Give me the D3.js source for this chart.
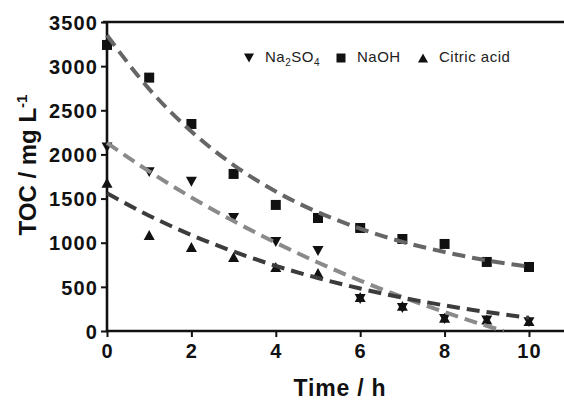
<!DOCTYPE html>
<html>
<head>
<meta charset="utf-8">
<script src="https://cdn.jsdelivr.net/npm/d3@7"></script>
<style>
  body { margin: 0; background: #fff; }
  text { font-family: "Liberation Sans", Arial, sans-serif; }
</style>
</head>
<body>
<svg id="chart" width="564" height="400"></svg>
<script>
// Measured TOC (mg/L) over electrolysis time (h) for three supporting electrolytes
const hours = [0, 1, 2, 3, 4, 5, 6, 7, 8, 9, 10];
const na2so4 = [2080, 1800, 1690, 1280, 1008, 906, 363, 260, 136, 120, 100];
const naoh = [3240, 2870, 2345, 1779, 1428, 1280, 1167, 1042, 986, 782, 725];
const citric = [1680, 1088, 952, 838, 725, 657, 385, 285, 150, 130, 112];

// Exponential-decay fit curves, sampled each hour
const fitHours = [0, 1, 2, 3, 4, 5, 6, 7, 8, 9, 10];
const fitHoursNa2so4 = [0, 1, 2, 3, 4, 5, 6, 7, 8, 9, 9.4];
const fitNa2so4 = [2130, 1808, 1513, 1245, 1000, 776, 571, 385, 214, 58, 0];
const fitNaoh = [3350, 2740, 2260, 1880, 1580, 1345, 1160, 1010, 895, 800, 730];
const fitCitric = [1560, 1306, 1087, 900, 738, 600, 481, 378, 290, 215, 150];

const xTicks = [0, 2, 4, 6, 8, 10];
const yTicks = [0, 500, 1000, 1500, 2000, 2500, 3000, 3500];

const legendNames = ["Na2SO4", "NaOH", "Citric acid"];

const W = 564, H = 400;
const svg = d3.select("#chart");

const x = d3.scaleLinear().domain([0, 10.83]).range([107, 564]);
const y = d3.scaleLinear().domain([0, 3500]).range([331, 22]);

const ink = "#111";

// marker shapes, centred on their bounding box
function markerPath(shape, s) {
  const h = s / 2;
  if (shape === "square") return `M${-h},${-h}H${h}V${h}H${-h}Z`;
  const th = s * 0.9 / 2;
  if (shape === "down") return `M${-h},${-th}L${h},${-th}L0,${th}Z`;
  return `M${-h},${th}L${h},${th}L0,${-th}Z`;
}

const series = [
  { name: "Na2SO4", values: na2so4, shape: "down", fitX: fitHoursNa2so4, fit: fitNa2so4, color: "#8a8a8a" },
  { name: "NaOH", values: naoh, shape: "square", fitX: fitHours, fit: fitNaoh, color: "#666" },
  { name: "Citric acid", values: citric, shape: "up", fitX: fitHours, fit: fitCitric, color: "#3c3c3c" }
];

// axes
const yAxis = d3.axisLeft(y).tickValues(yTicks).tickSize(6).tickPadding(3).tickFormat(d3.format("d"));
const gy = svg.append("g").attr("transform", "translate(107,0)").call(yAxis);
const xAxis = d3.axisBottom(x).tickValues(xTicks).tickSize(6).tickPadding(7).tickFormat(d3.format("d"));
const gx = svg.append("g").attr("transform", "translate(0,331)").call(xAxis);

[gx, gy].forEach(g => {
  g.select(".domain").remove();
  g.selectAll(".tick line").attr("stroke", ink).attr("stroke-width", 2);
  g.selectAll(".tick text")
    .attr("fill", ink)
    .style("font-size", "20px")
    .style("font-weight", "bold")
    .style("letter-spacing", "1.1px");
});
gy.selectAll(".tick text").attr("dy", "0.36em");

// spines: left, bottom and top frame lines
svg.append("line").attr("x1", x(0)).attr("x2", x(0)).attr("y1", y(3500) - 1).attr("y2", y(0) + 1)
  .attr("stroke", ink).attr("stroke-width", 2.6);
svg.append("line").attr("x1", x(0) - 1).attr("x2", W).attr("y1", y(0)).attr("y2", y(0))
  .attr("stroke", ink).attr("stroke-width", 2.6);
svg.append("line").attr("x1", x(0) - 4).attr("x2", W).attr("y1", y(3500)).attr("y2", y(3500))
  .attr("stroke", ink).attr("stroke-width", 2.6);

// data markers
series.forEach(s => {
  svg.append("g").selectAll("path")
    .data(hours.map((h, i) => [h, s.values[i]]))
    .join("path")
    .attr("transform", d => `translate(${x(d[0])},${y(d[1])})`)
    .attr("d", markerPath(s.shape, s.shape === "square" ? 10 : 11))
    .attr("fill", ink);
});

// dashed fit curves
const line = d3.line().x(d => x(d[0])).y(d => y(d[1])).curve(d3.curveMonotoneX);
series.forEach(s => {
  svg.append("path")
    .datum(s.fitX.map((h, i) => [h, s.fit[i]]))
    .attr("d", line)
    .attr("fill", "none")
    .attr("stroke", s.color)
    .attr("stroke-width", 4)
    .attr("stroke-dasharray", "13,7");
});

// legend
const legendX = [249, 341, 423];
const lg = svg.append("g");
series.forEach((s, i) => {
  lg.append("path")
    .attr("transform", `translate(${legendX[i]},58)`)
    .attr("d", markerPath(s.shape, s.shape === "square" ? 9 : 10))
    .attr("fill", ink);
  const t = lg.append("text")
    .attr("x", legendX[i] + 16)
    .attr("y", 62)
    .attr("fill", "#222")
    .style("font-size", "15px")
    .style("letter-spacing", "0.5px");
  if (legendNames[i] === "Na2SO4") {
    t.append("tspan").text("Na");
    t.append("tspan").text("2").attr("dy", 4).style("font-size", "10px");
    t.append("tspan").text("SO").attr("dy", -4);
    t.append("tspan").text("4").attr("dy", 4).style("font-size", "10px");
  } else {
    t.text(legendNames[i]);
  }
});

// axis titles
svg.append("text")
  .attr("x", 340).attr("y", 396)
  .attr("text-anchor", "middle")
  .attr("fill", ink)
  .style("font-size", "23px").style("font-weight", "bold").style("letter-spacing", "0.8px")
  .text("Time / h");

const yt = svg.append("text")
  .attr("transform", "translate(36,165) rotate(-90)")
  .attr("text-anchor", "middle")
  .attr("fill", ink)
  .style("font-size", "24px").style("font-weight", "bold");
yt.append("tspan").text("TOC / mg L");
yt.append("tspan").text("-1").attr("dy", -9).style("font-size", "15px");
</script>
</body>
</html>
